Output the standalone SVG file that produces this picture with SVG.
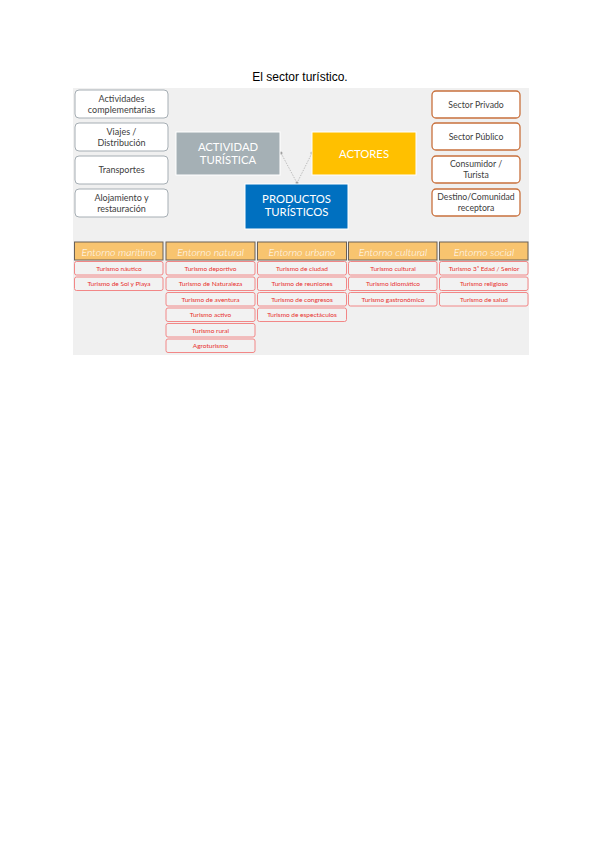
<svg xmlns="http://www.w3.org/2000/svg" width="600" height="848" viewBox="0 0 600 848">
<style>
text{font-family:Lato,"Liberation Sans",sans-serif}
.lb{fill:#fff;stroke:#a6aeb4;stroke-width:1}
.lt{font-size:9px;fill:#404040;text-anchor:middle}
.rb{fill:#fff;stroke:#c8703c;stroke-width:1.3}
.rt{font-size:8.7px;fill:#404040;text-anchor:middle}
.ct{font-size:11.3px;fill:#fff;text-anchor:middle}
.hd{fill:#f8c46f;stroke:#6b6156;stroke-width:1}
.ht{font-size:10.5px;fill:#fff;font-style:italic;text-anchor:middle;font-weight:300}
.cl{fill:#f2f2f2;stroke:#f27a7a;stroke-width:0.9}
.tt{font-size:6.5px;fill:#e8302c;text-anchor:middle}
.cn{stroke:#b0b0b0;stroke-width:0.8;stroke-dasharray:1.5 1.2;fill:none}
</style>
<rect width="600" height="848" fill="#fff"/>
<text x="300" y="81" font-size="12" text-anchor="middle" fill="#000" style="font-family:'Liberation Sans',Arial,sans-serif">El sector turístico.</text>
<rect x="73" y="88" width="456" height="267" fill="#f0f0f0"/>

<g id="left1"><rect class="lb" x="75" y="90" width="93" height="28" rx="4"/><text class="lt" x="121.5" y="102">Actividades</text><text class="lt" x="121.5" y="112.5">complementarias</text></g>
<g id="left2"><rect class="lb" x="75" y="123" width="93" height="28" rx="4"/><text class="lt" x="121.5" y="135">Viajes /</text><text class="lt" x="121.5" y="146">Distribución</text></g>
<g id="left3"><rect class="lb" x="75" y="156" width="93" height="28" rx="4"/><text class="lt" x="121.5" y="173">Transportes</text></g>
<g id="left4"><rect class="lb" x="75" y="189" width="93" height="28" rx="4"/><text class="lt" x="121.5" y="201">Alojamiento y</text><text class="lt" x="121.5" y="212">restauración</text></g>

<g id="connectors">
<path class="cn" d="M281 153 L297 183"/>
<path class="cn" d="M312 153 L297 183"/>
<circle cx="281" cy="153" r="1.5" fill="#a0a0a0"/>
<circle cx="312" cy="153" r="1.5" fill="#a0a0a0"/>
<circle cx="297" cy="183" r="1.5" fill="#a0a0a0"/>
</g>

<g id="actividad"><rect x="176" y="132" width="104" height="43" fill="#a5b0b5" stroke="#fff" stroke-width="1"/><text class="ct" x="228" y="151">ACTIVIDAD</text><text class="ct" x="228" y="164">TURÍSTICA</text></g>
<g id="actores"><rect x="312" y="132" width="104" height="43" fill="#ffc000" stroke="#fff" stroke-width="1"/><text class="ct" x="364" y="158">ACTORES</text></g>
<g id="productos"><rect x="245" y="184" width="103" height="45" fill="#0070c0" stroke="#fff" stroke-width="1"/><text class="ct" x="296.5" y="203">PRODUCTOS</text><text class="ct" x="296.5" y="216">TURÍSTICOS</text></g>

<g id="right1"><rect class="rb" x="432" y="91" width="88" height="27" rx="4"/><text class="rt" x="476" y="108">Sector Privado</text></g>
<g id="right2"><rect class="rb" x="432" y="123" width="88" height="27" rx="4"/><text class="rt" x="476" y="140">Sector Público</text></g>
<g id="right3"><rect class="rb" x="432" y="156" width="88" height="27" rx="4"/><text class="rt" x="476" y="167">Consumidor /</text><text class="rt" x="476" y="178">Turista</text></g>
<g id="right4"><rect class="rb" x="432" y="189" width="88" height="27" rx="4"/><text class="rt" x="476" y="200">Destino/Comunidad</text><text class="rt" x="476" y="211">receptora</text></g>

<g id="col1">
<rect class="hd" x="74.5" y="242" width="88.5" height="18"/><text class="ht" x="119" y="255.5">Entorno marítimo</text>
<rect class="cl" x="74.5" y="261.5" width="88.5" height="13.5" rx="2"/><text class="tt" x="119" y="270.5">Turismo náutico</text>
<rect class="cl" x="74.5" y="277" width="88.5" height="13.5" rx="2"/><text class="tt" x="119" y="286">Turismo de Sol y Playa</text>
</g>
<g id="col2">
<rect class="hd" x="166" y="242" width="89" height="18"/><text class="ht" x="210.5" y="255.5">Entorno natural</text>
<rect class="cl" x="166" y="261.5" width="89" height="13.5" rx="2"/><text class="tt" x="210.5" y="270.5">Turismo deportivo</text>
<rect class="cl" x="166" y="277" width="89" height="13.5" rx="2"/><text class="tt" x="210.5" y="286">Turismo de Naturaleza</text>
<rect class="cl" x="166" y="292.5" width="89" height="13.5" rx="2"/><text class="tt" x="210.5" y="301.5">Turismo de aventura</text>
<rect class="cl" x="166" y="308" width="89" height="13.5" rx="2"/><text class="tt" x="210.5" y="317">Turismo activo</text>
<rect class="cl" x="166" y="323.5" width="89" height="13.5" rx="2"/><text class="tt" x="210.5" y="332.5">Turismo rural</text>
<rect class="cl" x="166" y="339" width="89" height="13.5" rx="2"/><text class="tt" x="210.5" y="348">Agroturismo</text>
</g>
<g id="col3">
<rect class="hd" x="257.5" y="242" width="89" height="18"/><text class="ht" x="302" y="255.5">Entorno urbano</text>
<rect class="cl" x="257.5" y="261.5" width="89" height="13.5" rx="2"/><text class="tt" x="302" y="270.5">Turismo de ciudad</text>
<rect class="cl" x="257.5" y="277" width="89" height="13.5" rx="2"/><text class="tt" x="302" y="286">Turismo de reuniones</text>
<rect class="cl" x="257.5" y="292.5" width="89" height="13.5" rx="2"/><text class="tt" x="302" y="301.5">Turismo de congresos</text>
<rect class="cl" x="257.5" y="308" width="89" height="13.5" rx="2"/><text class="tt" x="302" y="317">Turismo de espectáculos</text>
</g>
<g id="col4">
<rect class="hd" x="348.5" y="242" width="88.5" height="18"/><text class="ht" x="393" y="255.5">Entorno cultural</text>
<rect class="cl" x="348.5" y="261.5" width="88.5" height="13.5" rx="2"/><text class="tt" x="393" y="270.5">Turismo cultural</text>
<rect class="cl" x="348.5" y="277" width="88.5" height="13.5" rx="2"/><text class="tt" x="393" y="286">Turismo idiomático</text>
<rect class="cl" x="348.5" y="292.5" width="88.5" height="13.5" rx="2"/><text class="tt" x="393" y="301.5">Turismo gastronómico</text>
</g>
<g id="col5">
<rect class="hd" x="439.5" y="242" width="88.5" height="18"/><text class="ht" x="484" y="255.5">Entorno social</text>
<rect class="cl" x="439.5" y="261.5" width="88.5" height="13.5" rx="2"/><text class="tt" x="484" y="270.5">Turismo 3ª Edad / Senior</text>
<rect class="cl" x="439.5" y="277" width="88.5" height="13.5" rx="2"/><text class="tt" x="484" y="286">Turismo religioso</text>
<rect class="cl" x="439.5" y="292.5" width="88.5" height="13.5" rx="2"/><text class="tt" x="484" y="301.5">Turismo de salud</text>
</g>
</svg>
